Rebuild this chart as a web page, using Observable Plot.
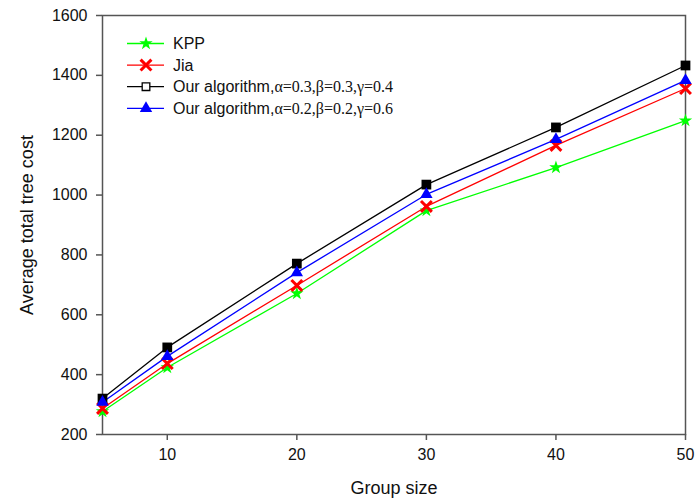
<!DOCTYPE html>
<html>
<head>
<meta charset="utf-8">
<script src="https://cdn.jsdelivr.net/npm/d3@7"></script>
<script src="https://cdn.jsdelivr.net/npm/@observablehq/plot@0.6"></script>
<style>
  html, body { margin: 0; padding: 0; background: white; }
</style>
</head>
<body>
<div id="chart"></div>
<script>
const groupSizes = [5, 10, 20, 30, 40, 50];
const kpp   = [277, 424, 671, 948, 1092, 1249];
const jia   = [287, 437, 698, 962, 1166, 1356];
const ours1 = [320, 491, 771, 1035, 1226, 1433];
const ours2 = [308, 461, 741, 1002, 1186, 1383];

const xTicks = [10, 20, 30, 40, 50];
const yTicks = [200, 400, 600, 800, 1000, 1200, 1400, 1600];

const seriesNames = ["KPP", "Jia", "ours1", "ours2"];
const seriesValues = [kpp, jia, ours1, ours2];
const seriesColors = ["#00ff00", "#ff0000", "#000000", "#0000ff"];
const seriesSymbols = ["star", "times", "square", "triangle"];
const legendLabels = [
  ["KPP", ""],
  ["Jia", ""],
  ["Our algorithm,", "\u03b1=0.3,\u03b2=0.3,\u03b3=0.4"],
  ["Our algorithm,", "\u03b1=0.2,\u03b2=0.2,\u03b3=0.6"]
];

const data = [];
seriesNames.forEach((s, i) => {
  groupSizes.forEach((g, j) => data.push({series: s, x: g, y: seriesValues[i][j]}));
});

const colorScale = {domain: seriesNames, range: seriesColors};
const axisColor = "#555";

const chart = Plot.plot({
  width: 695,
  height: 502,
  marginLeft: 102,
  marginRight: 10,
  marginTop: 15,
  marginBottom: 68,
  style: {fontFamily: "'Liberation Sans', Arial, sans-serif", fontSize: "16px", background: "white", color: "#111"},
  x: {domain: [5, 50]},
  y: {domain: [200, 1600]},
  color: colorScale,
  symbol: {domain: seriesNames, range: seriesSymbols},
  marks: [
    Plot.frame({stroke: axisColor, strokeWidth: 1.5}),
    Plot.axisX({ticks: xTicks, tickFormat: d => String(d), tickSize: 6, tickPadding: 8, label: null, stroke: axisColor, strokeWidth: 1.5, fontSize: 16}),
    Plot.axisY({ticks: yTicks, tickFormat: d => String(d), tickSize: 6, tickPadding: 9, label: null, stroke: axisColor, strokeWidth: 1.5, fontSize: 16}),
    Plot.text(["Group size"], {text: d => d, frameAnchor: "bottom", dy: 59, fontSize: 18}),
    Plot.text(["Average total tree cost"], {text: d => d, frameAnchor: "left", textAnchor: "middle", dx: -75, rotate: -90, fontSize: 18}),
    Plot.line(data, {x: "x", y: "y", z: "series", stroke: "series", strokeWidth: 1.3}),
    Plot.dot(data.filter(d => d.series === "KPP"), {x: "x", y: "y", symbol: "series", fill: "series", r: 4.2}),
    Plot.dot(data.filter(d => d.series === "Jia"), {x: "x", y: "y", symbol: "series", stroke: "series", r: 5, strokeWidth: 3}),
    Plot.dot(data.filter(d => d.series === "ours1"), {x: "x", y: "y", symbol: "series", fill: "series", r: 5.5}),
    Plot.dot(data.filter(d => d.series === "ours2"), {x: "x", y: "y", symbol: "series", fill: "series", r: 4.6})
  ]
});

document.getElementById("chart").appendChild(chart);

// Legend inside the plot area (top-left)
const svg = d3.select(chart);
const lg = svg.append("g").attr("class", "legend").attr("text-anchor", "start");
const rowY0 = 43.5, rowStep = 21.6;
const symMap = {star: d3.symbolStar, times: d3.symbolTimes, square: d3.symbolSquare, triangle: d3.symbolTriangle};
const symSize = [Math.PI * 4.2 * 4.2, Math.PI * 25, Math.PI * 4.3 * 4.3, Math.PI * 4.6 * 4.6];
seriesNames.forEach((s, i) => {
  const y = rowY0 + i * rowStep;
  const g = lg.append("g");
  g.append("line").attr("x1", 127).attr("x2", 164).attr("y1", y).attr("y2", y)
    .attr("stroke", seriesColors[i]).attr("stroke-width", 1.3);
  const path = g.append("path")
    .attr("d", d3.symbol(symMap[seriesSymbols[i]], symSize[i])())
    .attr("transform", `translate(146,${y})`);
  if (seriesSymbols[i] === "times") {
    path.attr("fill", "none").attr("stroke", seriesColors[i]).attr("stroke-width", 3);
  } else if (seriesSymbols[i] === "square") {
    path.attr("fill", "white").attr("stroke", seriesColors[i]).attr("stroke-width", 1.3);
  } else {
    path.attr("fill", seriesColors[i]);
  }
  const t = g.append("text").attr("x", 173).attr("y", y).attr("dy", "0.35em")
    .attr("text-anchor", "start")
    .attr("font-size", 16).attr("fill", "#111")
    .attr("font-family", "'Liberation Sans', Arial, sans-serif");
  t.append("tspan").text(legendLabels[i][0]);
  if (legendLabels[i][1]) {
    t.append("tspan").attr("font-family", "'Liberation Serif', 'Times New Roman', serif")
      .attr("font-size", 16).text(legendLabels[i][1]);
  }
});
</script>
</body>
</html>
